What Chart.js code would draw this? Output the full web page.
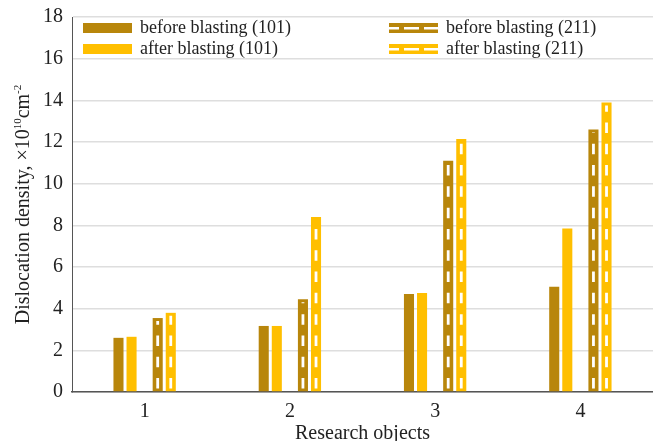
<!DOCTYPE html>
<html>
<head>
<meta charset="utf-8">
<script src="https://cdn.jsdelivr.net/npm/chart.js@4.4.1/dist/chart.umd.min.js"></script>
<style>
  html, body { margin: 0; padding: 0; background: #fff; }
  #chart { display: block; }
</style>
</head>
<body>
<canvas id="chart" width="653" height="441"></canvas>
<script>
// Datos
const objetos = ["1", "2", "3", "4"];
const antes101 = [2.6, 3.17, 4.7, 5.05];
const despues101 = [2.65, 3.17, 4.75, 7.85];
const antes211 = [3.55, 4.45, 11.1, 12.6];
const despues211 = [3.8, 8.4, 12.15, 13.9];
const hueco = [null, null, null, null]; // espacio vacio entre (101) y (211)
const ticksY = [0, 2, 4, 6, 8, 10, 12, 14, 16, 18];

const cafe = "rgb(184, 134, 11)";
const ambar = "rgb(255, 191, 0)";
const fuente = "'Liberation Serif', 'Times New Roman', serif";
const colorTexto = "#222";

// Titulos de los ejes (el de Y lleva superindices: 10^10 cm^-2)
const tituloX = "Research objects";
const tituloY = [
  { t: "Dislocation density, \u00d710", sup: false },
  { t: "10", sup: true },
  { t: "cm", sup: false },
  { t: "-2", sup: true },
];

// Franja blanca discontinua en el centro de las barras (211)
const franjaPlugin = {
  id: "franja",
  afterDatasetsDraw(chart) {
    const ctx = chart.ctx;
    chart.data.datasets.forEach((ds, i) => {
      if (!ds.rayada) return;
      const meta = chart.getDatasetMeta(i);
      meta.data.forEach((bar) => {
        if (bar.y == null || isNaN(bar.y)) return;
        ctx.save();
        ctx.beginPath();
        ctx.rect(bar.x - 3, bar.y + 3, 6, bar.base - bar.y - 3);
        ctx.clip();
        ctx.strokeStyle = "#fff";
        ctx.lineWidth = 2.8;
        ctx.setLineDash([10.5, 10.8]);
        ctx.beginPath();
        ctx.moveTo(bar.x, bar.base - 2.7);
        ctx.lineTo(bar.x, bar.y);
        ctx.stroke();
        ctx.restore();
      });
    });
  },
};

// Leyenda dentro del area de la grafica, en 2 columnas, y titulos de ejes
const leyendaPlugin = {
  id: "leyenda",
  afterDraw(chart) {
    const ctx = chart.ctx;
    const area = chart.chartArea;
    const columnas = [area.left + 11, area.left + 317];
    const filas = [area.top + 6, area.top + 27];
    ctx.save();
    ctx.font = "18px " + fuente;
    ctx.textBaseline = "middle";
    chart.data.datasets.forEach((ds) => {
      if (ds.fila == null) return;
      const x = columnas[ds.columna];
      const y = filas[ds.fila];
      ctx.fillStyle = ds.backgroundColor;
      ctx.fillRect(x, y, 49, 10);
      if (ds.rayada) {
        ctx.strokeStyle = "#fff";
        ctx.lineWidth = 2.6;
        ctx.setLineDash([15, 5]);
        ctx.lineDashOffset = 5;
        ctx.beginPath();
        ctx.moveTo(x, y + 5.3);
        ctx.lineTo(x + 49, y + 5.3);
        ctx.stroke();
        ctx.setLineDash([]);
      }
      ctx.fillStyle = colorTexto;
      ctx.fillText(ds.label, x + 57, y + 5);
    });

    // titulo horizontal
    const normal = "20px " + fuente;
    const chico = "11px " + fuente;
    ctx.font = normal;
    ctx.textAlign = "center";
    ctx.textBaseline = "alphabetic";
    ctx.fillText(tituloX, (area.left + area.right) / 2, 439);

    // titulo vertical
    ctx.textAlign = "left";
    let total = 0;
    tituloY.forEach((p) => {
      ctx.font = p.sup ? chico : normal;
      total += ctx.measureText(p.t).width;
    });
    ctx.translate(28.5, (area.top + area.bottom) / 2);
    ctx.rotate(-Math.PI / 2);
    let pos = -total / 2;
    tituloY.forEach((p) => {
      ctx.font = p.sup ? chico : normal;
      ctx.fillText(p.t, pos, p.sup ? -8 : 0);
      pos += ctx.measureText(p.t).width;
    });
    ctx.restore();
  },
};

function crearDataset(label, data, color, fila, columna, rayada) {
  return {
    label: label,
    data: data,
    backgroundColor: color,
    borderWidth: 0,
    fila: fila,
    columna: columna,
    rayada: rayada,
  };
}

const ctx = document.getElementById("chart");

new Chart(ctx, {
  type: "bar",
  data: {
    labels: objetos,
    datasets: [
      crearDataset("before blasting (101)", antes101, cafe, 0, 0, false),
      crearDataset("after blasting (101)", despues101, ambar, 1, 0, false),
      crearDataset("", hueco, "rgba(0,0,0,0)", null, null, false),
      crearDataset("before blasting (211)", antes211, cafe, 0, 1, true),
      crearDataset("after blasting (211)", despues211, ambar, 1, 1, true),
    ],
  },
  options: {
    responsive: false,
    animation: false,
    devicePixelRatio: 1,
    layout: { padding: { top: 16, left: 34, right: 0, bottom: 9 } },
    datasets: {
      bar: { categoryPercentage: 0.45, barPercentage: 0.77 },
    },
    plugins: {
      legend: { display: false },
      tooltip: { enabled: false },
    },
    scales: {
      x: {
        grid: { display: false, drawTicks: false },
        border: { color: "#555", width: 1.5 },
        ticks: { color: colorTexto, font: { family: fuente, size: 20 }, padding: 8 },
      },
      y: {
        min: 0,
        max: 18,
        afterBuildTicks: (scale) => {
          scale.ticks = ticksY.map((v) => ({ value: v }));
        },
        grid: { color: "#dedede", lineWidth: 1.5, drawTicks: false },
        border: { color: "#555", width: 1 },
        ticks: {
          color: colorTexto,
          font: { family: fuente, size: 20, lineHeight: 0.8 },
          padding: 9,
        },
      },
    },
  },
  plugins: [franjaPlugin, leyendaPlugin],
});
</script>
</body>
</html>
